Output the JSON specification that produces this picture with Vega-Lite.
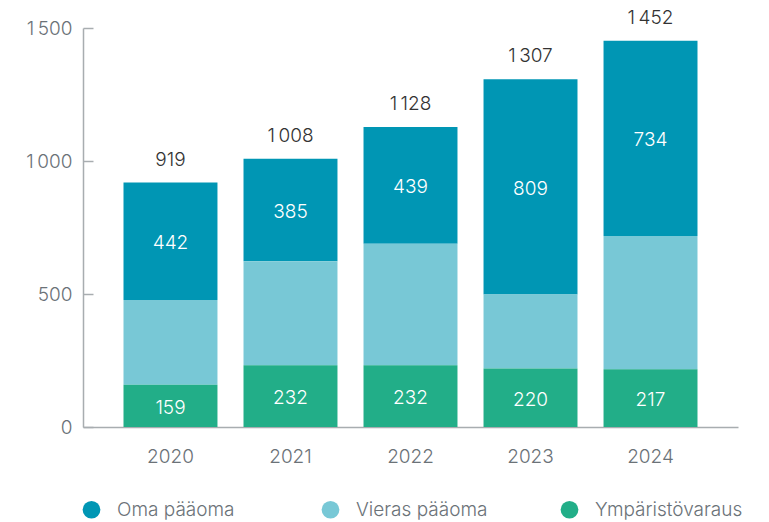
{
  "$schema": "https://vega.github.io/schema/vega-lite/v6.json",
  "width": 655,
  "height": 399,
  "autosize": "none",
  "padding": {"left": 83, "top": 28, "right": 31, "bottom": 95},
  "background": "white",
  "config": {
    "font": "Inter",
    "locale": {"number": {"decimal": ",", "thousands": "\u2009", "grouping": [3], "currency": ["", " €"]}},
    "view": {"stroke": null},
    "axis": {"labelFont": "Inter", "labelFontSize": 19, "labelFontWeight": 300, "labelColor": "#6b7278", "titleFont": "Inter"}
  },
  "data": {
    "values": [
      {"year": "2020", "category": "Oma pääoma", "value": 442, "ord": 3},
      {"year": "2020", "category": "Vieras pääoma", "value": 318, "ord": 2},
      {"year": "2020", "category": "Ympäristövaraus", "value": 159, "ord": 1},
      {"year": "2021", "category": "Oma pääoma", "value": 385, "ord": 3},
      {"year": "2021", "category": "Vieras pääoma", "value": 391, "ord": 2},
      {"year": "2021", "category": "Ympäristövaraus", "value": 232, "ord": 1},
      {"year": "2022", "category": "Oma pääoma", "value": 439, "ord": 3},
      {"year": "2022", "category": "Vieras pääoma", "value": 457, "ord": 2},
      {"year": "2022", "category": "Ympäristövaraus", "value": 232, "ord": 1},
      {"year": "2023", "category": "Oma pääoma", "value": 809, "ord": 3},
      {"year": "2023", "category": "Vieras pääoma", "value": 278, "ord": 2},
      {"year": "2023", "category": "Ympäristövaraus", "value": 220, "ord": 1},
      {"year": "2024", "category": "Oma pääoma", "value": 734, "ord": 3},
      {"year": "2024", "category": "Vieras pääoma", "value": 501, "ord": 2},
      {"year": "2024", "category": "Ympäristövaraus", "value": 217, "ord": 1}
    ]
  },
  "encoding": {
    "x": {
      "field": "year", "type": "nominal", "title": null,
      "scale": {"paddingInner": 0.217, "paddingOuter": 0.3375},
      "axis": {"labelAngle": 0, "ticks": false, "domainColor": "#a8adb0", "domainWidth": 1.5, "labelPadding": 20, "labelBaseline": "top"}
    }
  },
  "layer": [
    {
      "mark": {"type": "bar"},
      "encoding": {
        "y": {
          "field": "value", "type": "quantitative", "stack": "zero", "title": null,
          "scale": {"domain": [0, 1500], "nice": false},
          "axis": {"values": [0, 500, 1000, 1500], "format": ",d", "grid": false, "tickSize": -10, "tickColor": "#a8adb0", "tickWidth": 1.5, "domainColor": "#a8adb0", "domainWidth": 1.5, "labelPadding": 21}
        },
        "color": {
          "field": "category", "type": "nominal",
          "scale": {"domain": ["Oma pääoma", "Vieras pääoma", "Ympäristövaraus"], "range": ["#0096b4", "#78c8d6", "#22ae88"]},
          "legend": {
            "title": null, "orient": "none", "direction": "horizontal",
            "legendX": -1, "legendY": 472,
            "symbolType": "circle", "symbolSize": 314, "symbolStrokeWidth": 0,
            "labelFontSize": 19, "labelFontWeight": 300, "labelColor": "#6b7278", "labelFont": "Inter",
            "gridAlign": "all", "columnPadding": 56, "labelOffset": 16
          }
        },
        "order": {"field": "ord", "type": "quantitative"}
      }
    },
    {
      "transform": [
        {"stack": "value", "groupby": ["year"], "sort": [{"field": "ord", "order": "ascending"}], "as": ["v0", "v1"]},
        {"filter": "datum.category !== 'Vieras pääoma'"},
        {"calculate": "(datum.v0 + datum.v1) / 2", "as": "mid"}
      ],
      "mark": {"type": "text", "color": "white", "fontSize": 19, "fontWeight": 300, "baseline": "middle", "dy": 2, "font": "Inter"},
      "encoding": {
        "y": {"field": "mid", "type": "quantitative"},
        "text": {"field": "value", "type": "quantitative"}
      }
    },
    {
      "transform": [
        {"aggregate": [{"op": "sum", "field": "value", "as": "total"}], "groupby": ["year"]}
      ],
      "mark": {"type": "text", "color": "#333333", "fontSize": 19, "fontWeight": 300, "baseline": "bottom", "dy": -13, "font": "Inter"},
      "encoding": {
        "y": {"field": "total", "type": "quantitative"},
        "text": {"field": "total", "type": "quantitative", "format": ",d"}
      }
    }
  ]
}
